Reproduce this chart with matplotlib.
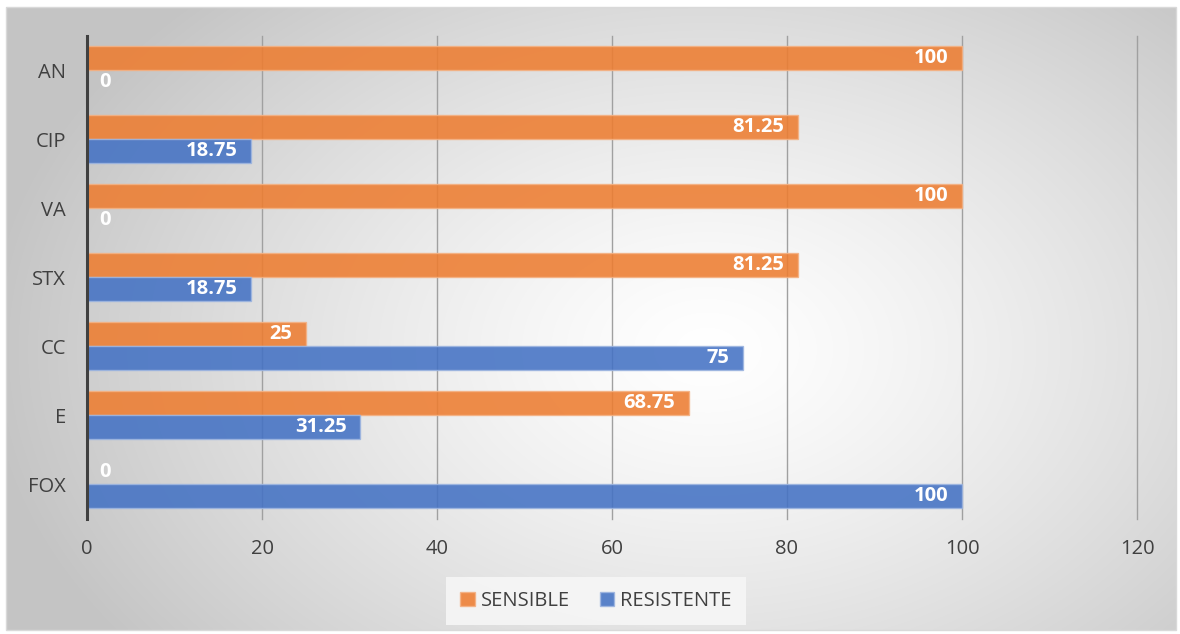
import numpy as np
import matplotlib
matplotlib.use("Agg")
import matplotlib.pyplot as plt
from matplotlib.patches import Rectangle

categories = ['AN', 'CIP', 'VA', 'STX', 'CC', 'E', 'FOX']
sensible = [100, 81.25, 100, 81.25, 25, 68.75, 0]
resistente = [0, 18.75, 0, 18.75, 75, 31.25, 100]
xticks = [0, 20, 40, 60, 80, 100, 120]
series_names = ['SENSIBLE', 'RESISTENTE']

plt.rcParams['font.family'] = ['Open Sans', 'DejaVu Sans']

W, H = 1180, 634
fig = plt.figure(figsize=(W / 100, H / 100), dpi=100)
fig.patch.set_facecolor('white')

# radial gradient background
bg = fig.add_axes([6 / W, 4 / H, 1170 / W, 623 / H], zorder=-5)
nx, ny = 600, 320
xx, yy = np.meshgrid(np.linspace(0, 1, nx), np.linspace(0, 1, ny))
r = np.sqrt(((xx - 0.6) / 0.62) ** 2 + ((yy - 0.45) / 0.8) ** 2)
r = np.clip(r, 0, 1)
val = 1.0 - 0.23 * r ** 1.3
img = np.dstack([val, val, val])
bg.imshow(img, aspect='auto', extent=[0, 1, 0, 1], origin='lower', interpolation='bilinear')
bg.set_axis_off()
fig.patches.append(Rectangle((6 / W, 4 / H), 1170 / W, 623 / H, transform=fig.transFigure,
                             fill=False, edgecolor='#d9d9d9', linewidth=1, zorder=-4))

ax = fig.add_axes([87 / W, 1 - 518.5 / H, 1050 / W, 483 / H])
ax.patch.set_alpha(0)

y = np.arange(len(categories))
h = 0.35
orange = '#ED7D31'
blue = '#4472C4'
b1 = ax.barh(y - h / 2, sensible, height=h, color=orange, alpha=0.88,
             edgecolor='#F4B183', linewidth=1, zorder=2, label=series_names[0])
b2 = ax.barh(y + h / 2, resistente, height=h, color=blue, alpha=0.88,
             edgecolor='#9DB5E0', linewidth=1, zorder=2, label=series_names[1])

for bars, vals in ((b1, sensible), (b2, resistente)):
    for rect, v in zip(bars, vals):
        yc = rect.get_y() + rect.get_height() / 2
        txt = f'{v:g}'
        if v == 0:
            ax.annotate(txt, (v, yc), xytext=(9, 0), textcoords='offset points',
                        ha='left', va='center', color='white', fontsize=14.5,
                        fontweight='bold', zorder=4)
        else:
            ax.annotate(txt, (v, yc), xytext=(-10, 0), textcoords='offset points',
                        ha='right', va='center', color='white', fontsize=14.5,
                        fontweight='bold', zorder=4)

ax.set_xlim(0, 120)
ax.set_ylim(len(categories) - 0.5, -0.5)
ax.set_xticks(xticks)
ax.set_xticklabels([str(t) for t in xticks])
ax.set_yticks(y)
ax.set_yticklabels(categories)
ax.tick_params(axis='both', length=0, labelsize=14.5, colors='#404040')
ax.tick_params(axis='x', pad=15)
ax.tick_params(axis='y', pad=15)
for t in xticks[1:]:
    ax.axvline(t, color='#a0a0a0', linewidth=1, zorder=1, clip_on=False)
for side in ('top', 'right', 'bottom'):
    ax.spines[side].set_visible(False)
ax.spines['left'].set_color('#404040')
ax.spines['left'].set_linewidth(2.2)
ax.spines['left'].set_zorder(5)

leg = fig.legend(handles=[b1, b2], labels=series_names, loc='center',
                 bbox_to_anchor=(596 / W, 1 - 601 / H), ncol=2, frameon=True,
                 fontsize=14.5, handlelength=0.7, handleheight=0.7, handletextpad=0.3,
                 columnspacing=1.5, borderpad=0.7)
leg.get_frame().set_facecolor('#f6f6f6')
leg.get_frame().set_edgecolor('none')
leg.get_frame().set_alpha(0.9)
leg.get_frame().set_boxstyle('square', pad=0.0)
for t in leg.get_texts():
    t.set_color('#404040')

fig.savefig('out.png', dpi=100)
